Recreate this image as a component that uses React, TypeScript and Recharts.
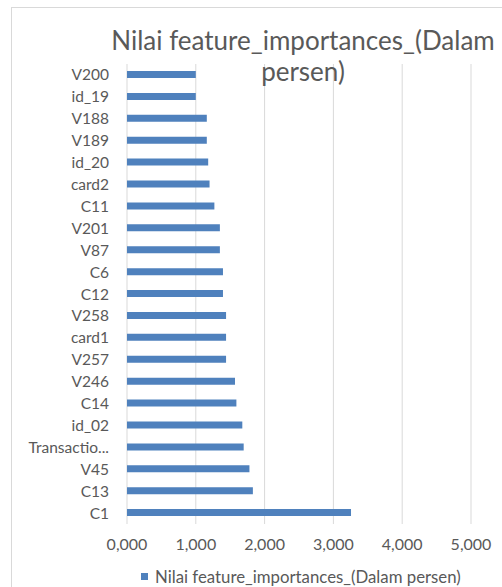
import { BarChart, Bar, XAxis, YAxis, CartesianGrid, Legend } from 'recharts';

const features = [
  'V200', 'id_19', 'V188', 'V189', 'id_20', 'card2', 'C11', 'V201', 'V87', 'C6', 'C12',
  'V258', 'card1', 'V257', 'V246', 'C14', 'id_02', 'Transactio...', 'V45', 'C13', 'C1',
];

const importances = [
  1.0, 1.0, 1.16, 1.16, 1.18, 1.2, 1.27, 1.35, 1.35, 1.395, 1.395,
  1.44, 1.44, 1.44, 1.57, 1.59, 1.676, 1.696, 1.78, 1.83, 3.256,
];

const xTicks = [0, 1, 2, 3, 4, 5];

const seriesName = 'Nilai feature_importances_(Dalam persen)';

const data = features.map((name, i) => ({ name, value: importances[i] }));

const textColor = '#595959';
const barColor = '#4F81BD';

// legenda di bawah grafik
const renderLegend = () => (
  <div style={{ display: 'flex', alignItems: 'center', height: 20, paddingLeft: 141 }}>
    <div style={{ width: 7, height: 7, background: barColor, marginRight: 7 }} />
    <span style={{ fontSize: 16.8, color: textColor, whiteSpace: 'nowrap' }}>{seriesName}</span>
  </div>
);

export default function App() {
  return (
    <div
      style={{
        position: 'absolute',
        left: 0,
        top: 0,
        width: 502,
        height: 587,
        overflow: 'hidden',
        background: '#fff',
        fontFamily: 'Lato, sans-serif',
      }}
    >
      <div
        style={{
          position: 'absolute',
          left: 11,
          top: 7,
          width: 600,
          height: 700,
          borderLeft: '1px solid #d9d9d9',
          borderTop: '1px solid #d9d9d9',
        }}
      />
      <BarChart
        layout="vertical"
        width={502}
        height={587}
        data={data}
        barSize={7}
        margin={{ top: 64, right: 31, left: 0, bottom: 13 }}
      >
        <CartesianGrid horizontal={false} stroke="#d9d9d9" />
        <XAxis
          type="number"
          domain={[0, 5]}
          ticks={xTicks}
          axisLine={false}
          tickLine={false}
          tickSize={0}
          tickMargin={15}
          height={30}
          tick={{ fill: textColor, fontSize: 16 }}
          tickFormatter={(v) => v.toFixed(3).replace('.', ',')}
        />
        <YAxis
          type="category"
          dataKey="name"
          width={127}
          axisLine={false}
          tickLine={false}
          tickSize={0}
          tickMargin={18}
          interval={0}
          tick={{ fill: textColor, fontSize: 15.5 }}
        />
        <Legend
          verticalAlign="bottom"
          content={renderLegend}
          wrapperStyle={{ position: 'absolute', left: 0, top: 566, width: 502, height: 20 }}
        />
        <Bar dataKey="value" name={seriesName} fill={barColor} isAnimationActive={false} />
      </BarChart>
      <div
        style={{
          position: 'absolute',
          left: 103,
          top: 25,
          width: 400,
          textAlign: 'center',
          fontSize: 26,
          lineHeight: '31px',
          color: textColor,
          whiteSpace: 'nowrap',
        }}
      >
        Nilai feature_importances_(Dalam
        <br />
        persen)
      </div>
    </div>
  );
}
